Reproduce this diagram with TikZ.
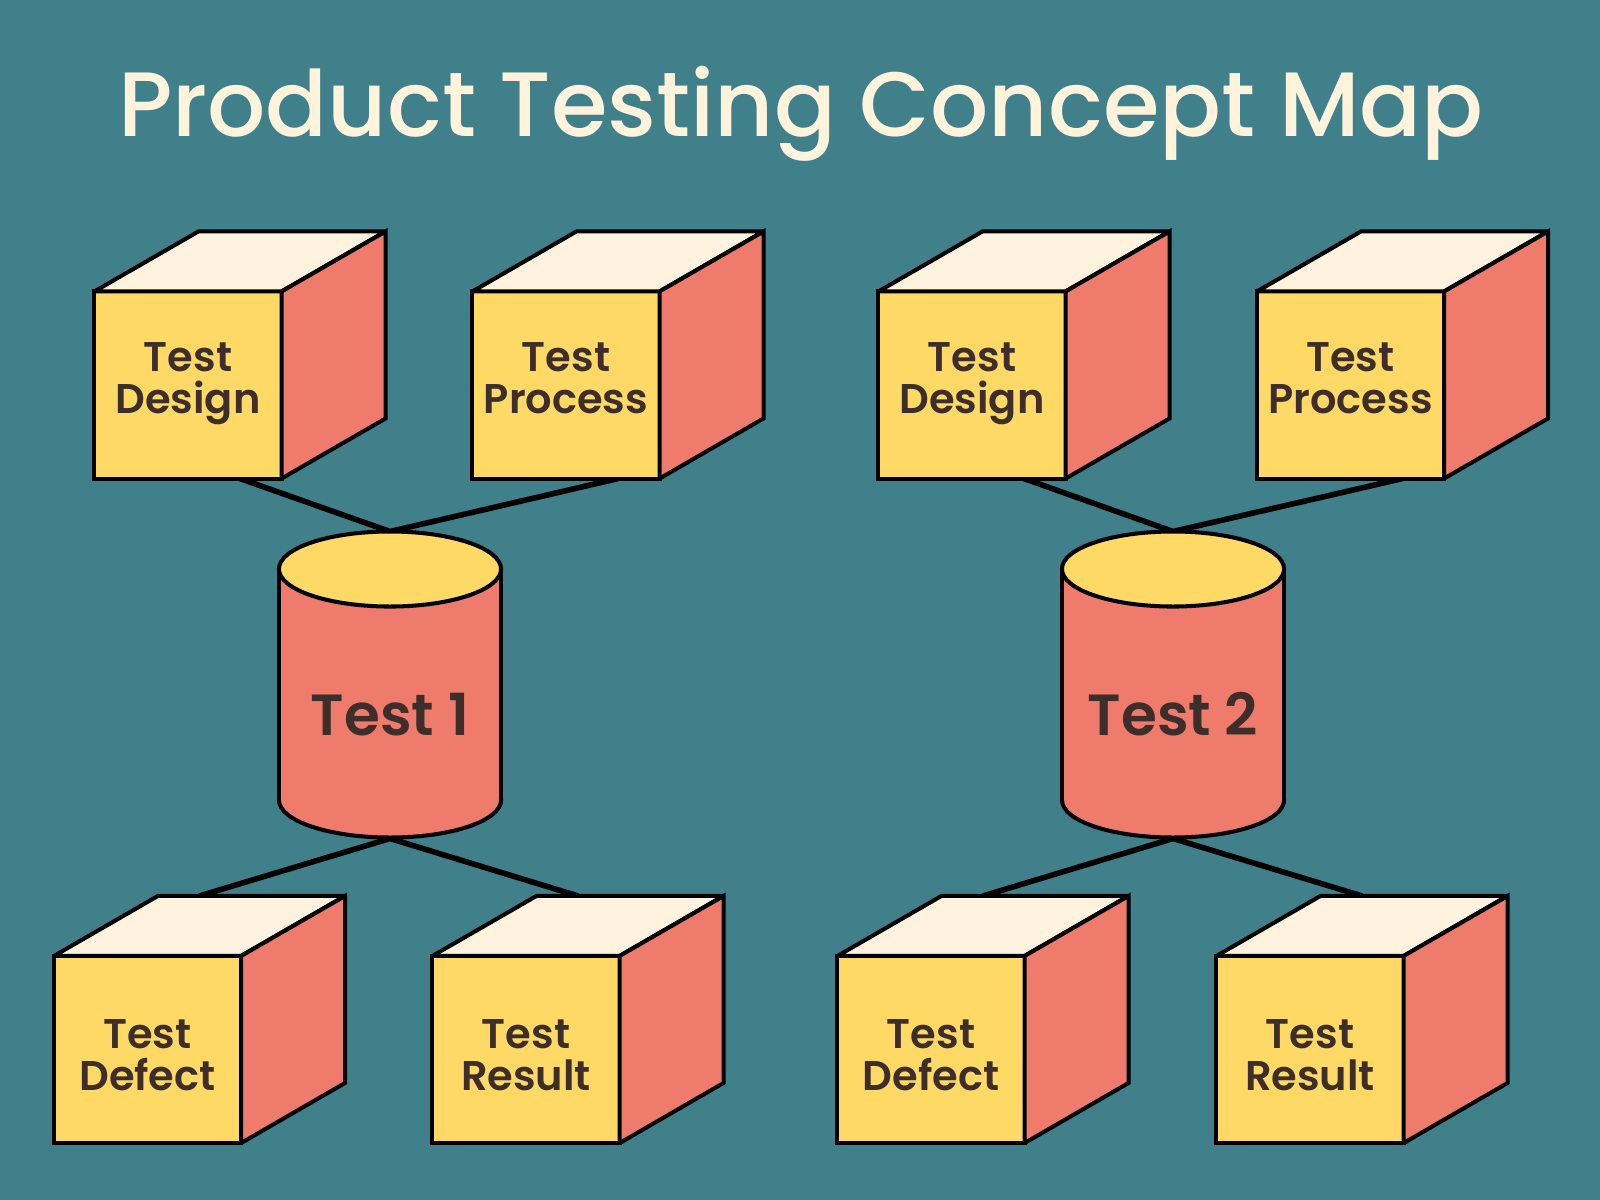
\documentclass[tikz,border=0pt]{standalone}
\usepackage{fontspec}
\setmainfont{Poppins}
\newfontfamily\titlefont{Poppins Medium}
\newfontfamily\boxfont{Poppins SemiBold}
\usetikzlibrary{calc}
\definecolor{bgc}{HTML}{40808A}
\definecolor{frontc}{HTML}{FFD966}
\definecolor{sidec}{HTML}{EE7B6B}
\definecolor{topc}{HTML}{FFF3E0}
\definecolor{inkc}{HTML}{3D2E2B}
\definecolor{titlec}{HTML}{FFF3DC}
\pgfdeclarelayer{back}
\pgfsetlayers{back,main}
\tikzset{
  cubeface/.style={draw=black, line width=1.15pt, line join=miter, miter limit=2},
  cubefront/.style={cubeface, fill=frontc, rectangle, minimum width=1.87cm, minimum height=1.87cm, inner sep=0pt, outer sep=0pt},
  cubetext/.style={text=inkc, font=\boxfont\fontsize{11.8}{12}\selectfont, align=center, inner sep=0pt, execute at end node={\vphantom{g}}},
  cylline/.style={draw=black, line width=1.15pt},
  cyltext/.style={text=inkc, font=\boxfont\fontsize{16.5}{18}\selectfont, inner sep=0pt, anchor=base},
  link/.style={draw=black, line width=1.6pt},
  titletext/.style={text=titlec, font=\titlefont\fontsize{26}{30}\selectfont, inner sep=0pt, anchor=base}
}
\newcommand\cubebox[4]{%
  \node[cubefront] (#1) at (#2) {};
  \draw[cubeface, fill=topc] (#1.north west) -- ++(104,-60) -- ++(187,0) -- (#1.north east) -- cycle;
  \draw[cubeface, fill=sidec] (#1.north east) -- ++(104,-60) -- ++(0,187) -- (#1.south east) -- cycle;
  \node[cubetext] (#1-txt) at ($(#1.center)+(0,#4)$) {#3};
  \coordinate (#1-b) at ($(#1.south)+(52,0)$);
  \coordinate (#1-t) at ($(#1.north)+(52,-60)$);
}
\newcommand\cylshape[3]{%
  \draw[cylline, fill=sidec] (#2,800) ellipse [x radius=1.11cm, y radius=0.375cm];
  \fill[sidec] (#2-111,569) rectangle (#2+111,800);
  \draw[cylline] (#2-111,569) -- (#2-111,800);
  \draw[cylline] (#2+111,569) -- (#2+111,800);
  \draw[cylline, fill=frontc] (#2,569) ellipse [x radius=1.11cm, y radius=0.375cm];
  \node[cyltext] (#1) at (#2,735) {#3};
  \coordinate (#1-t) at (#2,531.5);
  \coordinate (#1-b) at (#2,838.5);
}
\begin{document}
\begin{tikzpicture}[x=0.01cm, y=-0.01cm]
\begin{pgfonlayer}{back}
  \fill[bgc] (0,0) rectangle (1600,1200);
\end{pgfonlayer}
\useasboundingbox (0,0) rectangle (1600,1200);
\node[titletext] (title) at (801,136) {Product Testing Concept Map};
% group 1
\cubebox{d1}{188,385}{Test\\Design}{-1}
\cubebox{p1}{566,385}{Test\\Process}{-1}
\cubebox{f1}{147.5,1049.5}{Test\\Defect}{11}
\cubebox{r1}{526,1049.5}{Test\\Result}{11}
\cylshape{t1}{390}{Test 1}
% group 2
\cubebox{d2}{972,385}{Test\\Design}{-1}
\cubebox{p2}{1350.5,385}{Test\\Process}{-1}
\cubebox{f2}{931,1049.5}{Test\\Defect}{11}
\cubebox{r2}{1310,1049.5}{Test\\Result}{11}
\cylshape{t2}{1173}{Test 2}
\begin{pgfonlayer}{back}
  \draw[link] (d1-b) -- (t1-t) -- (p1-b);
  \draw[link] (f1-t) -- (t1-b) -- (r1-t);
  \draw[link] (d2-b) -- (t2-t) -- (p2-b);
  \draw[link] (f2-t) -- (t2-b) -- (r2-t);
\end{pgfonlayer}
\end{tikzpicture}
\end{document}
